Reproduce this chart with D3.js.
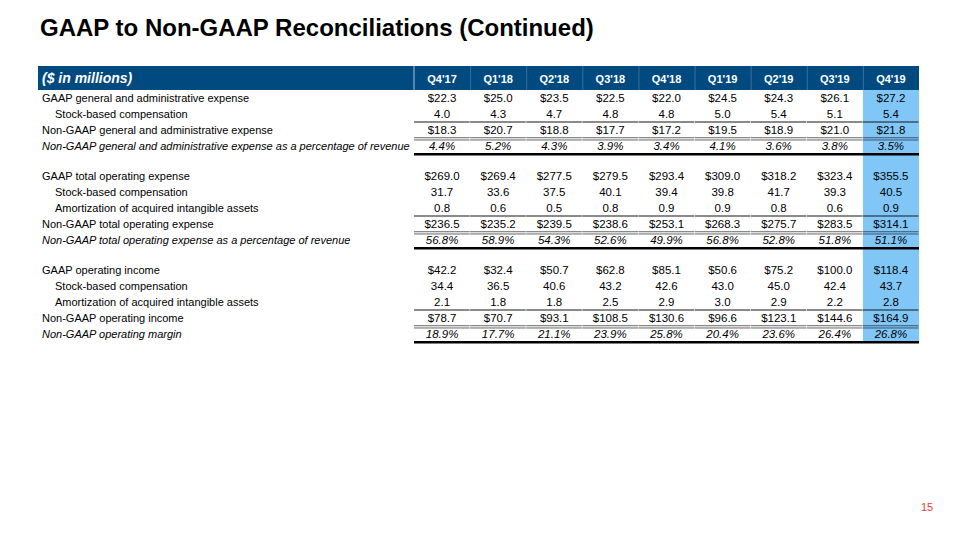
<!DOCTYPE html>
<html><head><meta charset="utf-8">
<script src="https://cdn.jsdelivr.net/npm/d3@7"></script>
<style>body{margin:0;background:#fff}svg{display:block}text{font-family:"Liberation Sans",Arial,sans-serif}</style>
</head><body>
<svg id="c" width="960" height="540"></svg>
<script>
const title = "GAAP to Non-GAAP Reconciliations (Continued)";
const unitLabel = "($ in millions)";
const quarters = ["Q4'17","Q1'18","Q2'18","Q3'18","Q4'18","Q1'19","Q2'19","Q3'19","Q4'19"];
const highlightQuarter = "Q4'19";

const gaapGA        = [22.3,25.0,23.5,22.5,22.0,24.5,24.3,26.1,27.2];
const sbcGA         = [4.0,4.3,4.7,4.8,4.8,5.0,5.4,5.1,5.4];
const nonGaapGA     = [18.3,20.7,18.8,17.7,17.2,19.5,18.9,21.0,21.8];
const nonGaapGAPct  = [4.4,5.2,4.3,3.9,3.4,4.1,3.6,3.8,3.5];

const gaapOpex      = [269.0,269.4,277.5,279.5,293.4,309.0,318.2,323.4,355.5];
const sbcOpex       = [31.7,33.6,37.5,40.1,39.4,39.8,41.7,39.3,40.5];
const amortOpex     = [0.8,0.6,0.5,0.8,0.9,0.9,0.8,0.6,0.9];
const nonGaapOpex   = [236.5,235.2,239.5,238.6,253.1,268.3,275.7,283.5,314.1];
const nonGaapOpexPct= [56.8,58.9,54.3,52.6,49.9,56.8,52.8,51.8,51.1];

const gaapOpInc     = [42.2,32.4,50.7,62.8,85.1,50.6,75.2,100.0,118.4];
const sbcOpInc      = [34.4,36.5,40.6,43.2,42.6,43.0,45.0,42.4,43.7];
const amortOpInc    = [2.1,1.8,1.8,2.5,2.9,3.0,2.9,2.2,2.8];
const nonGaapOpInc  = [78.7,70.7,93.1,108.5,130.6,96.6,123.1,144.6,164.9];
const nonGaapMargin = [18.9,17.7,21.1,23.9,25.8,20.4,23.6,26.4,26.8];

// row table: label, values, kind ('usd','num','pct'), indent, group, total
const rows = [
  ["GAAP general and administrative expense", gaapGA, "usd", 0, 0, 0],
  ["Stock-based compensation", sbcGA, "num", 1, 0, 0],
  ["Non-GAAP general and administrative expense", nonGaapGA, "usd", 0, 0, 1],
  ["Non-GAAP general and administrative expense as a percentage of revenue", nonGaapGAPct, "pct", 0, 0, 2],
  ["GAAP total operating expense", gaapOpex, "usd", 0, 1, 0],
  ["Stock-based compensation", sbcOpex, "num", 1, 1, 0],
  ["Amortization of acquired intangible assets", amortOpex, "num", 1, 1, 0],
  ["Non-GAAP total operating expense", nonGaapOpex, "usd", 0, 1, 1],
  ["Non-GAAP total operating expense as a percentage of revenue", nonGaapOpexPct, "pct", 0, 1, 2],
  ["GAAP operating income", gaapOpInc, "usd", 0, 2, 0],
  ["Stock-based compensation", sbcOpInc, "num", 1, 2, 0],
  ["Amortization of acquired intangible assets", amortOpInc, "num", 1, 2, 0],
  ["Non-GAAP operating income", nonGaapOpInc, "usd", 0, 2, 1],
  ["Non-GAAP operating margin", nonGaapMargin, "pct", 0, 2, 2]
].map((r,i)=>({label:r[0],values:r[1],kind:r[2],indent:r[3],group:r[4],total:r[5],i}));

const svg = d3.select("#c");
const f1 = d3.format(".1f");
const fmt = (k,v)=> k==="usd" ? "$"+f1(v) : k==="pct" ? f1(v)+"%" : f1(v);

const tableLeft = 38, tableRight = 919, labelRight = 414;
const x = d3.scaleBand().domain(quarters).range([labelRight, tableRight]);
const rowY = r => 98 + r.i*16 + r.group*14;

// title
svg.append("text").attr("x",40).attr("y",36).attr("font-size",24).attr("font-weight","bold")
  .attr("fill","#000").text(title);

// header bar
const headTop = 66, headBot = 90;
svg.append("rect").attr("x",tableLeft).attr("y",headTop).attr("width",tableRight-tableLeft)
  .attr("height",headBot-headTop).attr("fill","#004a80");

// highlight column
const last = rows[rows.length-1];
svg.append("rect").attr("x",x(highlightQuarter)).attr("y",headBot)
  .attr("width",x.bandwidth()).attr("height",rowY(last)+9-headBot).attr("fill","#80c6f7");

// header dividers
svg.append("line").attr("x1",labelRight).attr("x2",labelRight).attr("y1",headTop).attr("y2",headBot)
  .attr("stroke","#a8c4dc").attr("stroke-width",1);
quarters.slice(1).forEach(q=>{
  svg.append("line").attr("x1",x(q)+0.5).attr("x2",x(q)+0.5).attr("y1",headTop).attr("y2",headBot)
    .attr("stroke","#3a6f9c").attr("stroke-width",1);
});

svg.append("text").attr("x",42).attr("y",(headTop+headBot)/2).attr("dy","0.35em")
  .attr("font-size",14).attr("font-weight","bold").attr("font-style","italic").attr("fill","#fff").text(unitLabel);
svg.selectAll("text.qh").data(quarters).join("text").attr("class","qh")
  .attr("x",q=>x(q)+x.bandwidth()/2).attr("y",(headTop+headBot)/2+1).attr("dy","0.35em")
  .attr("text-anchor","middle").attr("font-size",11).attr("font-weight","bold").attr("fill","#fff").text(q=>q);

// rule lines
const lines = svg.append("g");
rows.forEach(r=>{
  const y = rowY(r);
  if (r.total===1) {
    quarters.forEach(q=>{
      lines.append("rect").attr("x",x(q)).attr("y",y-9).attr("width",x.bandwidth()-0.5).attr("height",2)
        .attr("fill", q===highlightQuarter ? "#4a6f8c":"#8a8a8a");
      lines.append("rect").attr("x",x(q)).attr("y",y+7).attr("width",x.bandwidth()-0.5).attr("height",1.3)
        .attr("fill", q===highlightQuarter ? "#4a6f8c":"#8a8a8a");
      lines.append("rect").attr("x",x(q)).attr("y",y+9.3).attr("width",x.bandwidth()-0.5).attr("height",1.3)
        .attr("fill", q===highlightQuarter ? "#4a6f8c":"#8a8a8a");
    });
  }
  if (r.total===2) {
    lines.append("rect").attr("x",labelRight).attr("y",y+7).attr("width",tableRight-labelRight).attr("height",2.5)
      .attr("fill","#000");
  }
});

// labels
svg.selectAll("text.lab").data(rows).join("text").attr("class","lab")
  .attr("x",r=>r.indent?55:42).attr("y",rowY).attr("dy","0.35em").attr("font-size",11)
  .attr("font-style",r=>r.kind==="pct"?"italic":"normal").attr("fill","#000").text(r=>r.label);

// values
rows.forEach(r=>{
  svg.selectAll(null).data(r.values).join("text")
    .attr("x",(v,j)=>x(quarters[j])+x.bandwidth()/2).attr("y",rowY(r)).attr("dy","0.35em")
    .attr("text-anchor","middle").attr("font-size",11.5)
    .attr("font-style",r.kind==="pct"?"italic":"normal").attr("fill","#000")
    .text(v=>fmt(r.kind,v));
});

// page number
svg.append("text").attr("x",927).attr("y",507).attr("dy","0.35em").attr("text-anchor","middle")
  .attr("font-size",11).attr("fill","#e8413c").text("15");
</script>
</body></html>
